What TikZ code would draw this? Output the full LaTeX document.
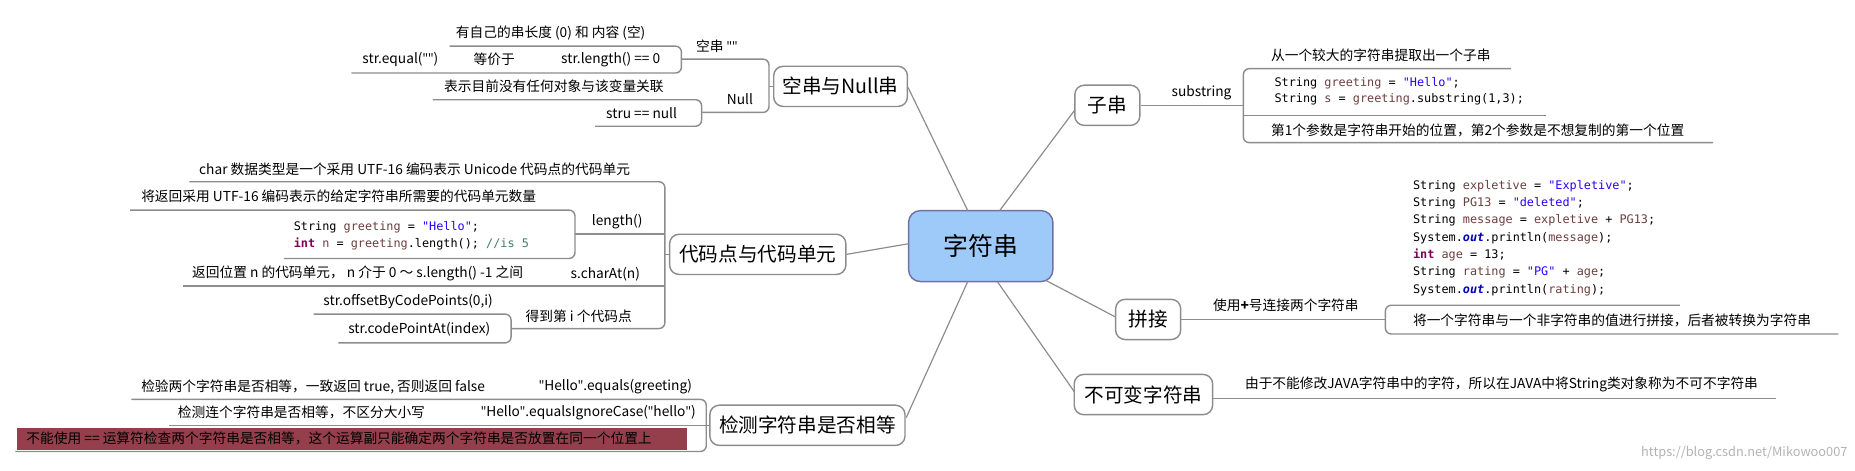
\documentclass[tikz,border=0pt]{standalone}
\usepackage{fontspec}
\setmainfont{Noto Sans CJK SC}
\newfontfamily\codefont{DejaVu Sans Mono}
\newfontfamily\lat{Open Sans}
\newcommand{\Q}{{\lat"}}
\definecolor{ln}{HTML}{8C8C8C}
\definecolor{cvar}{HTML}{6A3E3E}
\definecolor{cstr}{HTML}{2A00FF}
\definecolor{ckw}{HTML}{7F0055}
\definecolor{cout}{HTML}{0000C0}
\definecolor{ccom}{HTML}{3F7F5F}
\definecolor{cblue}{HTML}{9DCAF8}
\definecolor{cred}{HTML}{943F4B}
\newcommand{\cv}[1]{\textcolor{cvar}{#1}}
\newcommand{\cs}[1]{\textcolor{cstr}{#1}}
\newcommand{\ck}[1]{\textcolor{ckw}{\textbf{#1}}}
\newcommand{\co}[1]{\textcolor{cout}{\textbf{\textit{#1}}}}
\begin{document}
\begin{tikzpicture}[x=0.5pt,y=-0.5pt,
  br/.style={draw=ln,line width=0.6pt,rounded corners=2.5pt},
  topic/.style={draw=ln,line width=0.6pt,rounded corners=4pt,fill=white,font=\fontsize{8.3}{9}\selectfont,inner sep=0pt},
  lf/.style={anchor=west,inner sep=0pt,font=\fontsize{5.8}{6}\selectfont},
  cd/.style={anchor=west,inner sep=0pt,font=\codefont\fontsize{5}{6}\selectfont}]
\useasboundingbox (0,0) rectangle (1568,398);
% central
\node[draw=ln!80!blue,line width=0.6pt,rounded corners=5pt,fill=cblue,minimum width=61pt,minimum height=30pt,font=\fontsize{10.5}{12}\selectfont] (root) at (829,208) {字符串};
% topics
\node[topic,minimum width=56.5pt,minimum height=17pt] (kc) at (710.5,73) {空串与Null串};
\node[topic,minimum width=74.5pt,minimum height=17pt] (dm) at (640.5,215) {代码点与代码单元};
\node[topic,minimum width=82.5pt,minimum height=17pt] (jc) at (682.5,359.5) {检测字符串是否相等};
\node[topic,minimum width=27.5pt,minimum height=17pt] (zc) at (936,89) {子串};
\node[topic,minimum width=27.5pt,minimum height=17pt] (pj) at (970.5,270) {拼接};
\node[topic,minimum width=58.5pt,minimum height=17pt] (bk) at (966.5,333.5) {不可变字符串};
% center connectors
\draw[ln,line width=0.5pt] (kc.east|-0,74) -- (818,178);
\draw[ln,line width=0.5pt] (dm.east) -- (768,206);
\draw[ln,line width=0.5pt] (766,353) -- (818,238);
\draw[ln,line width=0.5pt] (908.5,93) -- (845,178);
\draw[ln,line width=0.5pt] (943,268) -- (884,237);
\draw[ln,line width=0.5pt] (908,331) -- (843,238);
% ===== 空串与Null串
\draw[br] (380,39) -- (576,39) -- (576,61.7) -- (297,61.7);
\draw[br] (576,50) -- (650,50) -- (650,95) -- (593,95);
\draw[ln,line width=0.6pt] (650,73) -- (kc.west);
\draw[br] (366,84.3) -- (593,84.3) -- (593,106.7) -- (503,106.7);
\node[lf] (k1) at (385,28) {有自己的串长度 (0) 和 内容 (空)};
\node[lf] (k2) at (306,50.5) {str.equal(\Q\Q)};
\node[lf] (k3) at (400,50.5) {等价于};
\node[lf] (k4) at (474,50.5) {str.length() == 0};
\node[lf] (k5) at (588,39) {空串 \Q\Q};
\node[lf] (k6) at (375,73) {表示目前没有任何对象与该变量关联};
\node[lf] (k7) at (614,84) {Null};
\node[lf] (k8) at (512,96) {stru == null};
% ===== 代码点与代码单元
\draw[br] (160,153.6) -- (562,153.6) -- (562,277.7) -- (432,277.7);
\draw[ln,line width=0.6pt] (562,215) -- (dm.west);
\draw[ln,line width=0.6pt] (486,197.9) -- (562,197.9);
\draw[ln,line width=0.6pt] (155,241.9) -- (562,241.9);
\draw[br] (110,177.6) -- (486,177.6) -- (486,218.5) -- (240,218.5);
\draw[br] (265,265.5) -- (432,265.5) -- (432,289.8) -- (286,289.8);
\node[lf] (d1) at (168,143) {char 数据类型是一个采用 UTF-16 编码表示 Unicode 代码点的代码单元};
\node[lf] (d2) at (119,165.5) {将返回采用 UTF-16 编码表示的给定字符串所需要的代码单元数量};
\node[cd] (d3) at (248,192) {String \cv{greeting} = \cs{"Hello"};};
\node[cd] (d4) at (248,206.3) {\ck{int} \cv{n} = \cv{greeting}.length();  \textcolor{ccom}{//is 5}};
\node[lf] (d5) at (500,187) {length()};
\node[lf] (d6) at (162,231.5) {返回位置 n 的代码单元， n 介于 0 ～ s.length() -1 之间};
\node[lf] (d7) at (482,232) {s.charAt(n)};
\node[lf] (d8) at (273,255) {str.offsetByCodePoints(0,i)};
\node[lf] (d9) at (294,278.5) {str.codePointAt(index)};
\node[lf] (d10) at (444,267) {得到第 i 个代码点};
% ===== 检测字符串是否相等
\fill[cred] (14,361.6) rectangle (581,380);
\draw[br] (111,337.6) -- (597,337.6) -- (597,381.6) -- (13,381.6);
\draw[ln,line width=0.6pt] (143,359.5) -- (jc.west);
\node[lf] (j1) at (119,327) {检验两个字符串是否相等，一致返回 true, 否则返回 false};
\node[lf] (j2) at (455,327) {\Q Hello\Q.equals(greeting)};
\node[lf] (j3) at (150,349) {检测连个字符串是否相等，不区分大小写};
\node[lf] (j4) at (406,349) {\Q Hello\Q.equalsIgnoreCase(\Q hello\Q)};
\node[lf] (j5) at (22,371) {不能使用 == 运算符检查两个字符串是否相等，这个运算副只能确定两个字符串是否放置在同一个位置上};
% ===== 子串
\draw[br] (1277,58) -- (1051,58) -- (1051,120.6) -- (1448,120.6);
\draw[ln,line width=0.6pt] (zc.east) -- (1051,89);
\draw[ln,line width=0.6pt] (1051,97.4) -- (1307,97.4);
\node[lf] (z1) at (990,78) {substring};
\node[lf] (z2) at (1074,47) {从一个较大的字符串提取出一个子串};
\node[cd] (z3) at (1077,70) {String \cv{greeting} = \cs{"Hello"};};
\node[cd] (z4) at (1077,84) {String \cv{s} = \cv{greeting}.substring(1,3);};
\node[lf] (z5) at (1074,110) {第1个参数是字符串开始的位置，第2个参数是不想复制的第一个位置};
% ===== 拼接
\draw[br] (1420,258) -- (1171,258) -- (1171,282.3) -- (1554,282.3);
\draw[ln,line width=0.6pt] (pj.east) -- (1171,270);
\node[lf] (p1) at (1025,258) {使用\textbf{+}号连接两个字符串};
\node[cd] (p2) at (1194,157) {String \cv{expletive} = \cs{"Expletive"};};
\node[cd] (p3) at (1194,171.7) {String \cv{PG13} = \cs{"deleted"};};
\node[cd] (p4) at (1194,186.4) {String \cv{message} = \cv{expletive} + \cv{PG13};};
\node[cd] (p5) at (1194,201.1) {System.\co{out}.println(\cv{message});};
\node[cd] (p6) at (1194,215.8) {\ck{int} \cv{age} = 13;};
\node[cd] (p7) at (1194,230.5) {String \cv{rating} = \cs{"PG"} + \cv{age};};
\node[cd] (p8) at (1194,245.2) {System.\co{out}.println(\cv{rating});};
\node[lf] (p9) at (1194,271) {将一个字符串与一个非字符串的值进行拼接，后者被转换为字符串};
% ===== 不可变字符串
\draw[ln,line width=0.6pt] (bk.east|-0,337) -- (1501,337);
\node[lf] (b1) at (1052,325) {由于不能修改JAVA字符串中的字符，所以在JAVA中将String类对象称为不可不字符串};
\node[anchor=east,inner sep=0pt,text=gray!60,font=\fontsize{5.4}{6}\selectfont] (wm) at (1562,383) {https://blog.csdn.net/Mikowoo007};
\end{tikzpicture}
\end{document}
